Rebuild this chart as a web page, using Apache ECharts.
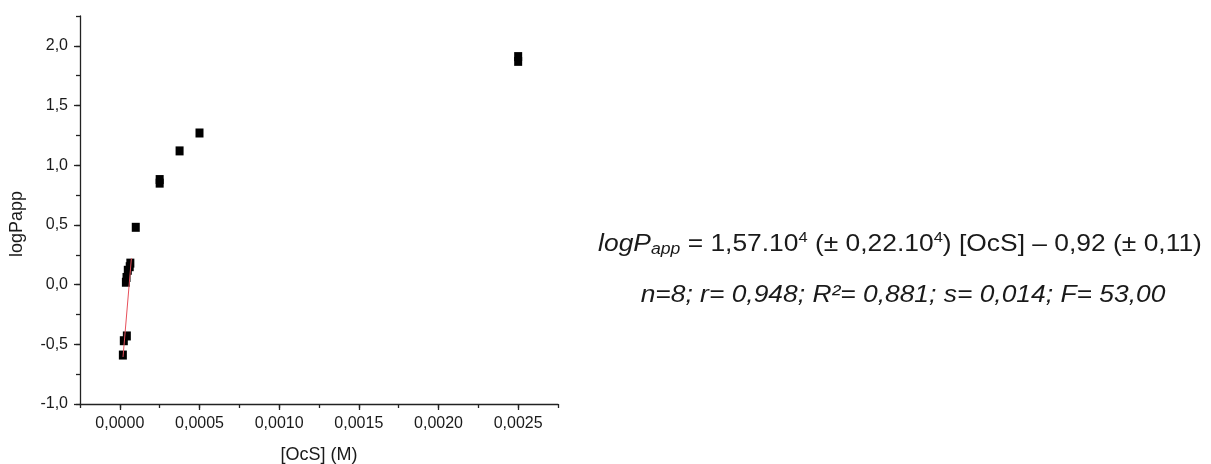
<!DOCTYPE html>
<html>
<head>
<meta charset="utf-8">
<script src="https://cdn.jsdelivr.net/npm/echarts@6/dist/echarts.min.js"></script>
<style>
  html, body { margin: 0; padding: 0; background: #fff; }
  #chart { width: 1211px; height: 464px; }
</style>
</head>
<body>
<div id="chart"></div>
<script>
// Measured points: surfactant concentration [OcS] (M) vs logPapp
const concentration = [0.000019, 0.000025, 0.000044, 0.000038, 0.000042, 0.00005, 0.000062, 0.000066,
                       0.0001, 0.00025, 0.00025, 0.000375, 0.0005, 0.0025, 0.0025];
const logPapp = [-0.59, -0.47, -0.43, 0.02, 0.06, 0.12, 0.15, 0.18,
                 0.48, 0.85, 0.88, 1.12, 1.27, 1.87, 1.91];

// Linear fit over the low-concentration range
const fitSlope = 1.57e4;
const fitIntercept = -0.92;
const fitRange = [0.00002, 0.0000726];

// Axis ticks
const xTickValues = [0, 0.0005, 0.001, 0.0015, 0.002, 0.0025];
const yTickValues = [-1.0, -0.5, 0.0, 0.5, 1.0, 1.5, 2.0];

const fitLine = fitRange.map(x => [x, fitIntercept + fitSlope * x]);
const points = concentration.map((x, i) => [x, logPapp[i]]);

const commaFmt = (digits) => (v) => v.toFixed(digits).replace('.', ',');
const FONT = 'Liberation Sans, Arial, sans-serif';
const AXIS_COLOR = '#222';
const TEXT_COLOR = '#1a1a1a';

const chart = echarts.init(document.getElementById('chart'));
chart.setOption({
  animation: false,
  backgroundColor: '#fff',
  grid: { left: 80, right: 653, top: 16, bottom: 60, containLabel: false, outerBoundsMode: 'none' },
  xAxis: [
    {
      type: 'value', min: -0.00025, max: 0.00275,
      name: '[OcS] (M)', nameLocation: 'middle', nameGap: 42,
      nameTextStyle: { fontFamily: FONT, fontSize: 18, color: TEXT_COLOR },
      axisLine: { show: true, onZero: false, lineStyle: { color: AXIS_COLOR, width: 1.3 } },
      axisTick: { show: true, customValues: xTickValues, length: 6, lineStyle: { color: AXIS_COLOR, width: 1.3 } },
      axisLabel: { customValues: xTickValues, formatter: commaFmt(4), margin: 12,
                   fontFamily: FONT, fontSize: 16, color: TEXT_COLOR },
      splitLine: { show: false }
    },
    {
      type: 'value', min: -0.00025, max: 0.00275, interval: 0.00025, position: 'bottom',
      axisLine: { show: false, onZero: false },
      axisTick: { show: true, length: 4, lineStyle: { color: AXIS_COLOR, width: 1.3 } },
      axisLabel: { show: false },
      splitLine: { show: false }
    }
  ],
  yAxis: [
    {
      type: 'value', min: -1.0, max: 2.25,
      name: 'logPapp', nameLocation: 'middle', nameGap: 54,
      nameTextStyle: { fontFamily: FONT, fontSize: 18, color: TEXT_COLOR, padding: [0, 28, 0, 0] },
      axisLine: { show: true, onZero: false, lineStyle: { color: AXIS_COLOR, width: 1.3 } },
      axisTick: { show: true, customValues: yTickValues, length: 6, lineStyle: { color: AXIS_COLOR, width: 1.3 } },
      axisLabel: { customValues: yTickValues, formatter: commaFmt(1), margin: 12,
                   fontFamily: FONT, fontSize: 16, color: TEXT_COLOR },
      splitLine: { show: false }
    },
    {
      type: 'value', min: -1.0, max: 2.25, interval: 0.25, position: 'left',
      axisLine: { show: false, onZero: false },
      axisTick: { show: true, length: 4, lineStyle: { color: AXIS_COLOR, width: 1.3 } },
      axisLabel: { show: false },
      splitLine: { show: false }
    }
  ],
  series: [
    {
      type: 'scatter', data: points, symbol: 'rect', symbolSize: [8, 9],
      itemStyle: { color: '#000', opacity: 1 }, z: 3
    },
    {
      type: 'line', data: fitLine, symbol: 'none',
      lineStyle: { color: '#e8505b', width: 1 }, z: 4
    }
  ],
  graphic: [
    {
      type: 'text', x: 900, y: 244, scaleX: 1.1,
      style: {
        text: '{i|logP}{sub|app}{n| = 1,57.10}{sup|4}{n| (± 0,22.10}{sup|4}{n|) [OcS] – 0,92 (± 0,11)}',
        align: 'center', verticalAlign: 'middle',
        fill: TEXT_COLOR,
        rich: {
          i: { fontFamily: FONT, fontSize: 24, fontStyle: 'italic', fill: TEXT_COLOR, lineHeight: 28 },
          n: { fontFamily: FONT, fontSize: 24, fill: TEXT_COLOR, lineHeight: 28 },
          sub: { fontFamily: FONT, fontSize: 16, fontStyle: 'italic', fill: TEXT_COLOR, verticalAlign: 'bottom', lineHeight: 18 },
          sup: { fontFamily: FONT, fontSize: 15, fill: TEXT_COLOR, verticalAlign: 'top', lineHeight: 16 }
        }
      }
    },
    {
      type: 'text', x: 903, y: 295, scaleX: 1.1,
      style: {
        text: 'n=8; r= 0,948; R²= 0,881; s= 0,014; F= 53,00',
        align: 'center', verticalAlign: 'middle',
        fill: TEXT_COLOR,
        font: 'italic 24px Liberation Sans, Arial, sans-serif'
      }
    }
  ]
});
</script>
</body>
</html>
